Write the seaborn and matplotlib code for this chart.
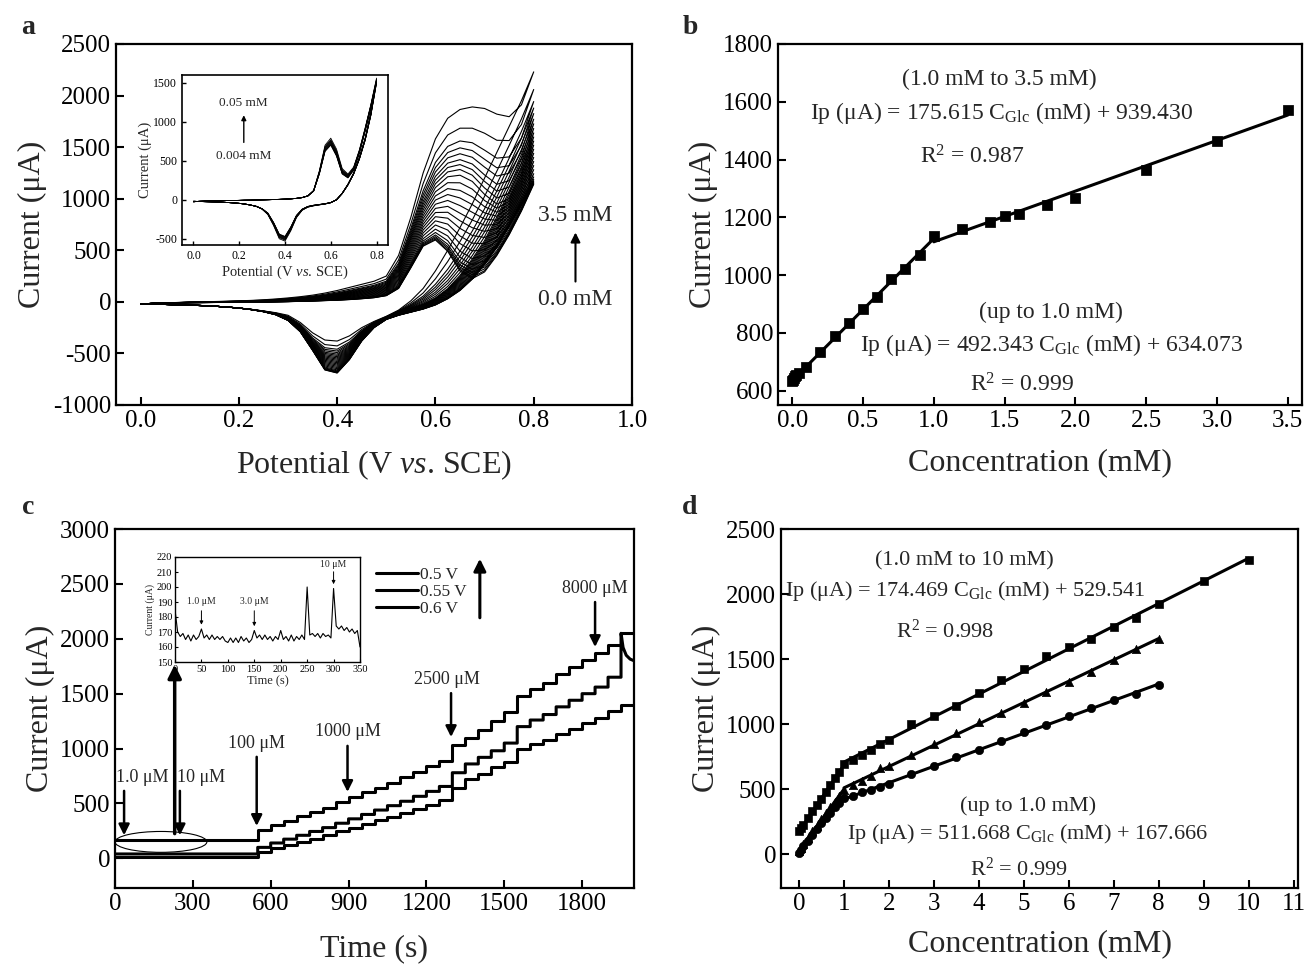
import numpy as np
import pandas as pd
import matplotlib
matplotlib.use("Agg")
import matplotlib.pyplot as plt
import seaborn as sns
from matplotlib.patches import Ellipse
from matplotlib.lines import Line2D

# ---------------- data ----------------
# (a) cyclic voltammograms on a potential grid (V): lowest, middle and highest curves read off
potential = [round(0.025 * i, 3) for i in range(33)]
cv_fwd_low = [-20, -15, -12, -10, -8, -7, -6, -5, -4, -3, -2, 0, 2, 5, 8, 12, 16, 22, 30, 40,
              60, 130, 330, 540, 600, 490, 300, 225, 290, 450, 650, 880, 1140]
cv_fwd_mid = [-20, -15, -11, -8, -5, -3, -1, 1, 3, 6, 9, 14, 20, 28, 36, 48, 63, 80, 100, 120,
              150, 300, 600, 900, 1120, 1230, 1250, 1190, 1060, 960, 1010, 1260, 1650]
cv_fwd_high = [-20, -15, -10, -6, -3, 0, 3, 6, 10, 14, 20, 28, 38, 50, 65, 85, 110, 140, 170, 200,
               250, 450, 820, 1250, 1580, 1780, 1865, 1890, 1875, 1820, 1795, 1910, 2230]
cv_rev_low = [-20, -22, -25, -28, -32, -36, -42, -50, -60, -75, -95, -125, -180, -290, -470, -660,
              -690, -560, -380, -250, -170, -130, -100, -70, -30, 30, 110, 220, 360, 530, 730, 940, 1140]
cv_rev_mid = [-20, -22, -25, -28, -32, -36, -42, -50, -60, -74, -92, -115, -160, -250, -400, -520,
              -540, -450, -310, -210, -150, -100, -60, -20, 40, 130, 260, 420, 600, 830, 1080, 1350, 1650]
cv_rev_high = [-20, -22, -25, -28, -32, -36, -42, -50, -60, -72, -88, -105, -130, -200, -300, -370,
               -380, -330, -250, -190, -140, -80, 10, 130, 300, 500, 720, 950, 1200, 1450, 1700, 1950, 2230]
cv_peak = [600, 610, 625, 640, 660, 690, 730, 780, 830, 880, 930, 980, 1030, 1080, 1130,
           1180, 1230, 1280, 1330, 1380, 1440, 1500, 1570, 1700, 1890]
# (a) inset, 0.004 - 0.05 mM
inset_conc = [0.004, 0.008, 0.01, 0.015, 0.02, 0.025, 0.03, 0.035, 0.04, 0.05]
inset_fwd_low = [-25, -20, -17, -15, -13, -11, -10, -9, -8, -6, -5, -3, -1, 1, 3, 5, 8, 12, 18, 28,
                 50, 110, 330, 620, 700, 560, 330, 280, 380, 600, 880, 1180, 1500]
inset_fwd_high = [-25, -20, -17, -15, -13, -11, -10, -9, -8, -6, -5, -3, -1, 1, 3, 5, 8, 12, 18, 28,
                  50, 120, 370, 700, 790, 650, 400, 330, 420, 640, 920, 1220, 1560]
inset_rev_low = [-20, -22, -24, -26, -28, -31, -35, -40, -46, -55, -68, -85, -115, -170, -290, -440,
                 -470, -350, -200, -120, -85, -70, -60, -50, -35, 0, 80, 190, 330, 520, 760, 1080, 1500]
inset_rev_high = [-20, -22, -24, -26, -28, -31, -35, -40, -46, -55, -68, -85, -120, -190, -330, -500,
                  -530, -400, -230, -135, -95, -78, -66, -55, -38, 0, 85, 200, 345, 545, 790, 1120, 1560]

# (b) calibration
conc_b = [0.0, 0.004, 0.01, 0.02, 0.03, 0.05, 0.1, 0.2, 0.3, 0.4, 0.5, 0.6, 0.7, 0.8, 0.9, 1.0,
          1.2, 1.4, 1.5, 1.6, 1.8, 2.0, 2.5, 3.0, 3.5]
ip_b = [632, 638, 645, 650, 655, 662, 682, 733, 788, 833, 881, 925, 985, 1020, 1070, 1134,
        1159, 1183, 1205, 1212, 1243, 1266, 1362, 1465, 1573]
fit_b_slope = [492.343, 175.615]
fit_b_icpt = [634.073, 939.430]
fit_b_range = [(0.0, 1.0), (1.0, 3.5)]

# (c) amperometric i-t steps
step_t = [0, 550, 600, 650, 700, 750, 800, 850, 900, 950, 1000, 1050, 1100, 1150, 1200, 1250,
          1300, 1350, 1400, 1450, 1500, 1550, 1600, 1650, 1700, 1750, 1800, 1850, 1900, 1950]
it_05V = [170, 260, 300, 340, 385, 420, 460, 510, 560, 600, 640, 690, 740, 790, 840, 890,
          1030, 1100, 1170, 1250, 1330, 1480, 1540, 1600, 1680, 1740, 1810, 1870, 1940, 2050]
it_055V = [40, 100, 140, 175, 210, 245, 280, 320, 360, 400, 440, 480, 520, 565, 610, 655,
           780, 860, 920, 980, 1050, 1200, 1260, 1310, 1380, 1440, 1500, 1560, 1650]
it_055V_tail_t = [1950, 1950, 1958, 1970, 1985, 2000]
it_055V_tail_i = [1650, 2050, 1920, 1850, 1815, 1800]
it_06V = [15, 60, 90, 120, 150, 180, 210, 245, 280, 310, 345, 380, 415, 450, 490, 530,
          640, 720, 770, 830, 880, 1000, 1040, 1080, 1130, 1180, 1230, 1280, 1340, 1400]
t_end = 2000
# (c) inset
inset_t = list(range(0, 355, 5))
inset_i = [185, 170, 167, 169, 165, 168, 164, 168, 165, 167, 172, 166, 168, 165, 168, 165, 167, 165,
           167, 164, 163, 166, 163, 166, 163, 167, 164, 166, 163, 165, 171, 166, 168, 165, 168, 165,
           167, 164, 167, 165, 171, 165, 167, 164, 168, 164, 167, 165, 168, 165, 200, 168, 169, 167,
           169, 166, 169, 167, 168, 166, 199, 174, 172, 174, 171, 173, 170, 172, 169, 171, 160]

# (d) calibration at three potentials
conc_d = [0, 0.05, 0.1, 0.2, 0.3, 0.4, 0.5, 0.6, 0.7, 0.8, 0.9, 1.0, 1.2, 1.4, 1.6, 1.8, 2.0,
          2.5, 3.0, 3.5, 4.0, 4.5, 5.0, 5.5, 6.0, 6.5, 7.0, 7.5, 8.0]
conc_d_sq = conc_d + [9.0, 10.0]
ip_05V = [175, 200, 225, 275, 330, 375, 425, 480, 535, 585, 630, 690, 725, 760, 800, 845, 880,
          1000, 1065, 1140, 1240, 1340, 1425, 1520, 1590, 1655, 1745, 1815, 1925, 2100, 2260]
ip_055V = [25, 50, 75, 125, 175, 220, 270, 315, 360, 405, 450, 495, 530, 565, 600, 660, 680,
           760, 845, 935, 1015, 1085, 1165, 1245, 1325, 1400, 1495, 1575, 1655]
ip_06V = [10, 35, 60, 105, 150, 195, 240, 280, 320, 360, 395, 430, 450, 475, 490, 515, 540,
          615, 675, 745, 800, 870, 940, 990, 1060, 1125, 1185, 1235, 1300]

# ---------------- style ----------------
sns.set_style("ticks", {"xtick.direction": "in", "ytick.direction": "in"})
plt.rcParams["font.family"] = ["Liberation Serif", "DejaVu Serif"]
plt.rcParams["mathtext.fontset"] = "custom"
plt.rcParams["mathtext.rm"] = "Liberation Serif"
plt.rcParams["mathtext.it"] = "Liberation Serif:italic"
plt.rcParams["axes.linewidth"] = 1.6
plt.rcParams["axes.unicode_minus"] = False
plt.rcParams["xtick.major.width"] = 1.5
plt.rcParams["ytick.major.width"] = 1.5
plt.rcParams["xtick.major.size"] = 6
plt.rcParams["ytick.major.size"] = 6
plt.rcParams["axes.edgecolor"] = "black"

W, H = 1306, 965
fig = plt.figure(figsize=(W / 100, H / 100), dpi=100)


def add_ax(l, t, r, b):
    return fig.add_axes([l / W, 1 - b / H, (r - l) / W, (b - t) / H])


TICK = 18
LAB = 23
ANN = 17
K = "black"


def style(ax, ts=TICK):
    ax.tick_params(axis="both", labelsize=ts, colors=K, top=False, right=False)
    for s in ax.spines.values():
        s.set_color(K)


def blend(a, b, t):
    return np.array(a, float) + t * (np.array(b, float) - np.array(a, float))


def cv_frame(anchors_f, anchors_r, weights):
    """anchors: curves at w = 0, (0.5), 1; piecewise blend between neighbours."""
    rows = []
    E = np.array(potential)
    n = len(anchors_f) - 1
    for k, w in enumerate(weights):
        seg = min(int(w * n), n - 1)
        t = w * n - seg
        f = blend(anchors_f[seg], anchors_f[seg + 1], t)
        r = blend(anchors_r[seg], anchors_r[seg + 1], t)
        xs = np.concatenate([E, E[::-1]])
        ys = np.concatenate([f, r[::-1]])
        rows.append(pd.DataFrame({"E": xs, "I": ys, "curve": k}))
    return pd.concat(rows, ignore_index=True)


# ---------------- panel a ----------------
ax_a = add_ax(116, 44, 632, 405)
pk = np.array(cv_peak, dtype=float)
w_main = (pk - pk[0]) / (pk[-1] - pk[0])
df_a = cv_frame([cv_fwd_low, cv_fwd_mid, cv_fwd_high], [cv_rev_low, cv_rev_mid, cv_rev_high], w_main)
sns.lineplot(data=df_a, x="E", y="I", units="curve", estimator=None, sort=False,
             color=K, lw=0.8, ax=ax_a, legend=False)
ax_a.set_xlim(-0.05, 1.0)
ax_a.set_ylim(-1000, 2500)
ax_a.set_xticks(np.arange(0, 1.01, 0.2))
ax_a.set_xticklabels([f"{v:.1f}" for v in np.arange(0, 1.01, 0.2)])
ax_a.set_yticks(np.arange(-1000, 2501, 500))
ax_a.set_xlabel(r"Potential (V $\mathit{vs}$. SCE)", fontsize=LAB, labelpad=12)
ax_a.set_ylabel("Current (μA)", fontsize=LAB)
style(ax_a)
ax_a.text(0.885, 840, "3.5 mM", fontsize=ANN, ha="center", va="center")
ax_a.text(0.885, 20, "0.0 mM", fontsize=ANN, ha="center", va="center")
ax_a.annotate("", xy=(0.885, 700), xytext=(0.885, 170),
              arrowprops=dict(arrowstyle="-|>", color=K, lw=1.5, mutation_scale=14))

# inset a
ax_ai = add_ax(182, 75, 388, 245)
w_in = (np.array(inset_conc) - inset_conc[0]) / (inset_conc[-1] - inset_conc[0])
df_ai = cv_frame([inset_fwd_low, inset_fwd_high], [inset_rev_low, inset_rev_high], w_in)
sns.lineplot(data=df_ai, x="E", y="I", units="curve", estimator=None, sort=False,
             color=K, lw=0.6, ax=ax_ai, legend=False)
ax_ai.set_xlim(-0.05, 0.85)
ax_ai.set_ylim(-580, 1600)
ax_ai.set_xticks(np.arange(0, 0.81, 0.2))
ax_ai.set_xticklabels([f"{v:.1f}" for v in np.arange(0, 0.81, 0.2)])
ax_ai.set_yticks(np.arange(-500, 1501, 500))
ax_ai.set_xlabel(r"Potential (V $\mathit{vs}$. SCE)", fontsize=10.5, labelpad=1)
ax_ai.set_ylabel("Current (μA)", fontsize=10.5, labelpad=1)
style(ax_ai, 8.5)
ax_ai.tick_params(length=3, width=1)
for s in ax_ai.spines.values():
    s.set_linewidth(1.2)
ax_ai.text(0.22, 1240, "0.05 mM", fontsize=9.5, ha="center", va="center")
ax_ai.text(0.22, 560, "0.004 mM", fontsize=9.5, ha="center", va="center")
ax_ai.annotate("", xy=(0.22, 1120), xytext=(0.22, 700),
               arrowprops=dict(arrowstyle="-|>", color=K, lw=1.0, mutation_scale=7))

# ---------------- panel b ----------------
ax_b = add_ax(778, 44, 1302, 405)
sns.scatterplot(x=conc_b, y=ip_b, marker="s", s=45, color=K, edgecolor=K, ax=ax_b, zorder=3)
for sl, ic, (x0, x1) in zip(fit_b_slope, fit_b_icpt, fit_b_range):
    sns.lineplot(x=[x0, x1], y=[ic + sl * x0, ic + sl * x1], color=K, lw=2.2, ax=ax_b)
ax_b.set_xlim(-0.1, 3.6)
ax_b.set_ylim(550, 1800)
ax_b.set_xticks(np.arange(0, 3.51, 0.5))
ax_b.set_xticklabels([f"{v:.1f}" for v in np.arange(0, 3.51, 0.5)])
ax_b.set_yticks(np.arange(600, 1801, 200))
ax_b.set_xlabel("Concentration (mM)", fontsize=LAB, labelpad=12)
ax_b.set_ylabel("Current (μA)", fontsize=LAB)
style(ax_b)
ax_b.text(1.46, 1676, "(1.0 mM to 3.5 mM)", fontsize=ANN, ha="center", va="center")
ax_b.text(1.48, 1561, r"Ip (μA) = 175.615 C$_{\mathrm{Glc}}$ (mM) + 939.430", fontsize=ANN,
          ha="center", va="center")
ax_b.text(1.27, 1409, r"R$^{2}$ = 0.987", fontsize=ANN, ha="center", va="center")
ax_b.text(1.83, 870, "(up to 1.0 mM)", fontsize=ANN, ha="center", va="center")
ax_b.text(1.83, 759, r"Ip (μA) = 492.343 C$_{\mathrm{Glc}}$ (mM) + 634.073", fontsize=ANN,
          ha="center", va="center")
ax_b.text(1.62, 621, r"R$^{2}$ = 0.999", fontsize=ANN, ha="center", va="center")

# ---------------- panel c ----------------
ax_c = add_ax(115, 529, 634, 888)


def step_xy(times, levels, end):
    xs, ys = [], []
    for i, (t, L) in enumerate(zip(times, levels)):
        nxt = times[i + 1] if i + 1 < len(times) else end
        xs += [t, nxt]
        ys += [L, L]
    return xs, ys


x1, y1 = step_xy(step_t, it_05V, t_end)
x2, y2 = step_xy(step_t[:-1], it_055V, 1950)
x2 += it_055V_tail_t
y2 += it_055V_tail_i
x3, y3 = step_xy(step_t, it_06V, t_end)
for xs, ys in [(x1, y1), (x2, y2), (x3, y3)]:
    sns.lineplot(x=xs, y=ys, sort=False, estimator=None, color=K, lw=2.2, ax=ax_c)
ax_c.set_xlim(0, 2000)
ax_c.set_ylim(-270, 3000)
ax_c.set_xticks(np.arange(0, 1801, 300))
ax_c.set_yticks(np.arange(0, 3001, 500))
ax_c.set_xlabel("Time (s)", fontsize=LAB, labelpad=14)
ax_c.set_ylabel("Current (μA)", fontsize=LAB)
style(ax_c)
ax_c.add_patch(Ellipse((177, 150), 354, 190, fill=False, lw=0.8, color=K))
arr = dict(arrowstyle="-|>", color=K, lw=1.8, mutation_scale=16)
CAN = 13
ax_c.text(5, 740, "1.0 μM", fontsize=CAN, ha="left", va="center")
ax_c.annotate("", xy=(35, 185), xytext=(35, 640), arrowprops=arr)
ax_c.text(240, 740, "10 μM", fontsize=CAN, ha="left", va="center")
ax_c.annotate("", xy=(250, 185), xytext=(250, 640), arrowprops=arr)
ax_c.text(545, 1050, "100 μM", fontsize=CAN, ha="center", va="center")
ax_c.annotate("", xy=(546, 270), xytext=(546, 950), arrowprops=arr)
ax_c.text(896, 1160, "1000 μM", fontsize=CAN, ha="center", va="center")
ax_c.annotate("", xy=(896, 580), xytext=(896, 1050), arrowprops=arr)
ax_c.text(1280, 1630, "2500 μM", fontsize=CAN, ha="center", va="center")
ax_c.annotate("", xy=(1295, 1080), xytext=(1295, 1530), arrowprops=arr)
ax_c.text(1850, 2460, "8000 μM", fontsize=CAN, ha="center", va="center")
ax_c.annotate("", xy=(1850, 1900), xytext=(1850, 2360), arrowprops=arr)
ax_c.annotate("", xy=(230, 1790), xytext=(230, 200),
              arrowprops=dict(arrowstyle="-|>", color=K, lw=2.5, mutation_scale=20))
handles = [Line2D([0], [0], color=K, lw=2.2) for _ in range(3)]
ax_c.legend(handles, ["0.5 V", "0.55 V", "0.6 V"], frameon=False, loc="upper left",
            bbox_to_anchor=(0.49, 0.915), handlelength=2.4, handletextpad=0.1,
            labelspacing=0.05, fontsize=12.5, borderaxespad=0)
ax_c.annotate("", xy=(0.703, 0.925), xytext=(0.703, 0.745), xycoords="axes fraction",
              arrowprops=dict(arrowstyle="-|>", color=K, lw=2.2, mutation_scale=18))

# inset c
ax_ci = add_ax(175, 557, 360, 662)
sns.lineplot(x=inset_t, y=inset_i, color=K, lw=0.8, ax=ax_ci)
ax_ci.set_xlim(0, 350)
ax_ci.set_ylim(150, 220)
ax_ci.set_xticks(np.arange(0, 351, 50))
ax_ci.set_yticks(np.arange(150, 221, 10))
ax_ci.set_xlabel("Time (s)", fontsize=9, labelpad=1)
ax_ci.set_ylabel("Current (μA)", fontsize=7, labelpad=1)
style(ax_ci, 7.5)
ax_ci.tick_params(length=2.5, width=0.8, pad=2)
for s in ax_ci.spines.values():
    s.set_linewidth(1.0)
sarr = dict(arrowstyle="-|>", color=K, lw=0.7, mutation_scale=5)
ax_ci.text(50, 190, "1.0 μM", fontsize=7, ha="center", va="center")
ax_ci.annotate("", xy=(50, 173), xytext=(50, 186), arrowprops=sarr)
ax_ci.text(150, 190, "3.0 μM", fontsize=7, ha="center", va="center")
ax_ci.annotate("", xy=(150, 172), xytext=(150, 186), arrowprops=sarr)
ax_ci.text(300, 215, "10 μM", fontsize=7, ha="center", va="center")
ax_ci.annotate("", xy=(300, 200), xytext=(300, 212), arrowprops=sarr)

# ---------------- panel d ----------------
ax_d = add_ax(781, 529, 1298, 888)
series_d = [(conc_d_sq, ip_05V, "s"), (conc_d, ip_055V, "^"), (conc_d, ip_06V, "o")]
for xs, ys, mk in series_d:
    xs = np.array(xs)
    ys = np.array(ys)
    lo = xs <= 1.0
    hi = xs >= 1.0
    sns.regplot(x=xs[lo], y=ys[lo], scatter=False, ci=None, truncate=True,
                line_kws=dict(color=K, lw=2.2), ax=ax_d)
    sns.regplot(x=xs[hi], y=ys[hi], scatter=False, ci=None, truncate=True,
                line_kws=dict(color=K, lw=2.2), ax=ax_d)
    sns.scatterplot(x=xs, y=ys, marker=mk, s=36, color=K, edgecolor=K, ax=ax_d, zorder=3)
ax_d.set_xlim(-0.4, 11.1)
ax_d.set_ylim(-260, 2500)
ax_d.set_xticks(np.arange(0, 12, 1))
ax_d.set_yticks(np.arange(0, 2501, 500))
ax_d.set_xlabel("Concentration (mM)", fontsize=LAB, labelpad=10)
ax_d.set_ylabel("Current (μA)", fontsize=LAB)
style(ax_d)
ax_d.text(3.69, 2253, "(1.0 mM to 10 mM)", fontsize=ANN - 1, ha="center", va="center")
ax_d.text(3.69, 2022, r"Ip (μA) = 174.469 C$_{\mathrm{Glc}}$ (mM) + 529.541", fontsize=ANN - 1,
          ha="center", va="center")
ax_d.text(3.24, 1715, r"R$^{2}$ = 0.998", fontsize=ANN - 1, ha="center", va="center")
ax_d.text(5.09, 369, "(up to 1.0 mM)", fontsize=ANN - 1, ha="center", va="center")
ax_d.text(5.09, 154, r"Ip (μA) = 511.668 C$_{\mathrm{Glc}}$ (mM) + 167.666", fontsize=ANN - 1,
          ha="center", va="center")
ax_d.text(4.9, -115, r"R$^{2}$ = 0.999", fontsize=ANN - 1, ha="center", va="center")

# panel letters
for ch, (px, py) in zip("abcd", [(28, 28), (690, 28), (28, 508), (690, 508)]):
    fig.text(px / W, 1 - py / H, ch, fontsize=20, fontweight="bold", ha="center", va="center")

fig.savefig("out.png", dpi=100, facecolor="white")
